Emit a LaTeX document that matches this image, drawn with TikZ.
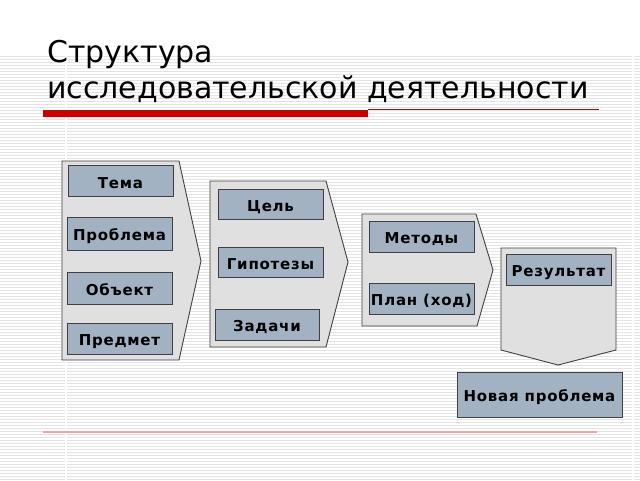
\documentclass[tikz,border=0pt]{standalone}
\usepackage{fontspec}
\setmainfont{DejaVu Sans}
\newfontfamily\boxfont[LetterSpace=5]{DejaVu Sans}
\definecolor{boxfill}{HTML}{A3B2C2}
\definecolor{chevfill}{HTML}{E0E0E0}
\definecolor{edge}{HTML}{404040}
\definecolor{stripe}{HTML}{E4E4E4}
\definecolor{redbar}{HTML}{CC0000}
\begin{document}
\begin{tikzpicture}[x=1pt,y=-1pt,
  item/.style={draw=edge, line width=0.9pt, fill=boxfill, inner sep=0pt,
    text height=14pt, text depth=0pt,
    minimum width=105pt, minimum height=31pt, font=\boxfont\fontsize{15}{17}\selectfont\bfseries},
  chev/.style={draw=edge, line width=0.9pt, fill=chevfill},
  titletext/.style={anchor=base west, inner sep=0pt, font=\fontsize{30}{36}\selectfont}]
\useasboundingbox (0,0) rectangle (640,480);
\fill[white] (0,0) rectangle (640,480);
% striped background
\foreach \yy in {56,59,...,479} {
  \draw[stripe, line width=1pt] (0,\yy) -- (640,\yy);
}
\draw[white, line width=1.2pt] (66,56) -- (66,480);
\draw[white, line width=1.2pt] (633,56) -- (633,480);
% title
\node[titletext] (t1) at (47,62) {Структура};
\node[titletext] (t2) at (47,98) {исследовательской деятельности};
\fill[redbar] (43,110) rectangle (368,117);
\draw[redbar, line width=0.8pt] (368,109.5) -- (599,109.5);
\draw[redbar!35, line width=1.2pt] (43,432) -- (597,432);
% chevrons
\draw[chev] (62,161) -- (179,161) -- (201,261) -- (179,360) -- (62,360) -- cycle;
\draw[chev] (210,181) -- (326,181) -- (348,262) -- (326,347) -- (210,347) -- cycle;
\draw[chev] (362,214) -- (476,214) -- (493,270) -- (477,326) -- (362,326) -- cycle;
\draw[chev] (501,248) -- (616,248) -- (616,350) -- (558,365) -- (501,350) -- cycle;
% boxes
\node[item] (tema) at (120.5,181) {Тема};
\node[item, minimum height=33pt] (problema) at (119.5,233.5) {Проблема};
\node[item, minimum height=32pt] (obekt) at (119.5,288) {Объект};
\node[item] (predmet) at (119.5,338.5) {Предмет};
\node[item, minimum height=30pt] (tsel) at (270.5,204) {Цель};
\node[item, minimum height=30pt] (gipotezy) at (270.5,262) {Гипотезы};
\node[item, minimum width=104pt] (zadachi) at (267,324.5) {Задачи};
\node[item] (metody) at (421.5,236.5) {Методы};
\node[item] (plan) at (421.5,298.5) {План (ход)};
\node[item] (rezultat) at (558.5,269.5) {Результат};
\node[item, minimum width=165pt, minimum height=45pt] (novaya) at (539.5,394.5) {Новая проблема};
\end{tikzpicture}
\end{document}
